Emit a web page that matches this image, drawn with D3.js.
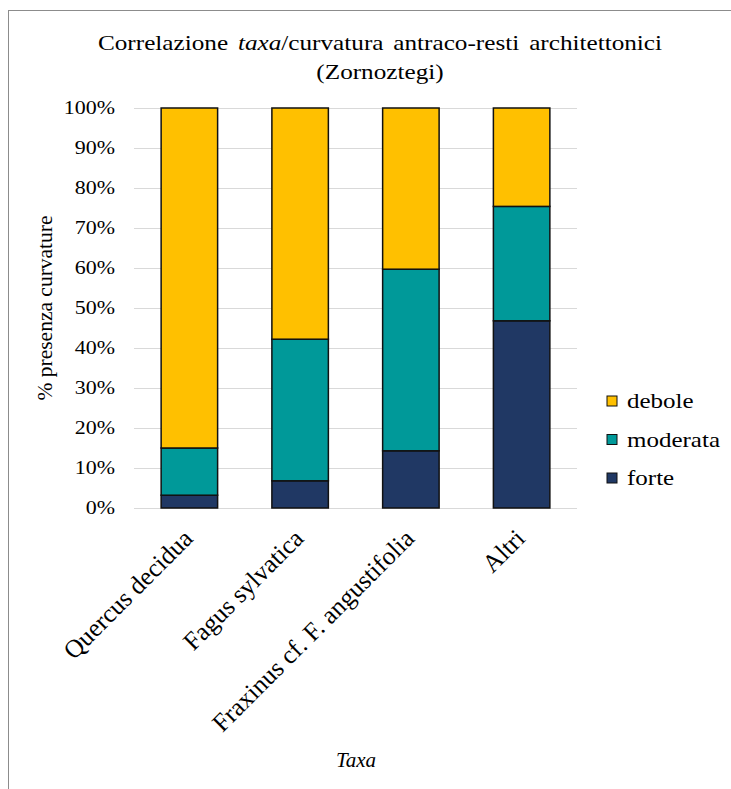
<!DOCTYPE html>
<html>
<head>
<meta charset="utf-8">
<script src="https://cdn.jsdelivr.net/npm/d3@7"></script>
<style>
  body { margin: 0; background: #fff; }
  svg text { font-family: 'Liberation Serif', 'DejaVu Serif', 'Times New Roman', serif; fill: #000; }
</style>
</head>
<body>
<svg id="chart" width="731" height="789"></svg>
<script>
// Categories (taxa) and stacked series shares (%)
const categories = ["Quercus decidua", "Fagus sylvatica", "Fraxinus cf. F. angustifolia", "Altri"];
const forte    = [3.2, 6.8, 14.3, 46.8];
const moderata = [11.8, 35.4, 45.4, 28.6];
const debole   = [85.0, 57.8, 40.3, 24.6];
const seriesNames = ["forte", "moderata", "debole"];
const legendItems = ["debole", "moderata", "forte"];
const yTicks = [0, 10, 20, 30, 40, 50, 60, 70, 80, 90, 100];

const colors = { forte: "#203864", moderata: "#009999", debole: "#FFC000" };
const FONT = "'Liberation Serif', 'DejaVu Serif', serif";
const WIDE = 1.22; // horizontal widening of the serif lettering

const svg = d3.select("#chart").attr("font-family", FONT);
const W = 731, H = 789;

// outer frame
svg.append("rect").attr("x", 8.5).attr("y", 10.5).attr("width", W).attr("height", H)
  .attr("fill", "none").attr("stroke", "#8c8c8c").attr("stroke-width", 1);

const plot = { left: 134, right: 577, top: 108, bottom: 508 };

const rows = categories.map((c, i) => ({ cat: c, forte: forte[i], moderata: moderata[i], debole: debole[i] }));
const stack = d3.stack().keys(seriesNames)(rows);

const x = d3.scaleBand().domain(categories).range([plot.left, plot.right]).paddingInner(0.49).paddingOuter(0.245);
const y = d3.scaleLinear().domain([0, 100]).range([plot.bottom, plot.top]);

// gridlines
svg.append("g").selectAll("line").data(yTicks).join("line")
  .attr("x1", plot.left).attr("x2", plot.right)
  .attr("y1", d => y(d) + 0.5).attr("y2", d => y(d) + 0.5)
  .attr("stroke", "#d9d9d9").attr("stroke-width", 1);

// y axis labels
const yAxis = d3.axisLeft(y).tickValues(yTicks).tickFormat(d => d + "%").tickSize(0);
const yg = svg.append("g").attr("transform", `translate(${plot.left},0)`).call(yAxis)
  .attr("font-family", FONT).attr("font-size", 18);
yg.select(".domain").remove();
yg.selectAll("text").attr("fill", "#000").attr("x", 0)
  .attr("transform", `translate(-19,0) scale(${WIDE},1)`);

// stacked bars
svg.append("g").selectAll("g").data(stack).join("g")
  .attr("fill", d => colors[d.key])
  .selectAll("rect").data(d => d).join("rect")
  .attr("x", d => x(d.data.cat))
  .attr("width", x.bandwidth())
  .attr("y", d => y(d[1]))
  .attr("height", d => y(d[0]) - y(d[1]))
  .attr("stroke", "#111").attr("stroke-width", 1.5);

// category labels, rotated
svg.append("g").selectAll("text").data(categories).join("text")
  .attr("transform", d => `translate(${x(d) + x.bandwidth() / 2 + 5},${plot.bottom + 32}) rotate(-45)`)
  .attr("text-anchor", "end")
  .attr("font-size", 25.5)
  .text(d => d);

// axis titles
svg.append("text").attr("transform", `translate(52,${(plot.top + plot.bottom) / 2}) rotate(-90)`)
  .attr("text-anchor", "middle").attr("font-size", 21.5).text("% presenza curvature");
svg.append("text").attr("x", 356).attr("y", 767).attr("text-anchor", "middle")
  .attr("font-size", 21).attr("font-style", "italic").text("Taxa");

// title
const tg1 = svg.append("g").attr("transform", `translate(380,50) scale(1.2,1)`);
const t1 = tg1.append("text").attr("text-anchor", "middle")
  .attr("font-size", 21).attr("word-spacing", 3);
t1.append("tspan").text("Correlazione ");
t1.append("tspan").attr("font-style", "italic").text("taxa");
t1.append("tspan").text("/curvatura antraco-resti architettonici");
svg.append("g").attr("transform", `translate(380,79) scale(1.2,1)`)
  .append("text").attr("text-anchor", "middle")
  .attr("font-size", 21).text("(Zornoztegi)");

// legend
const lg = svg.append("g").selectAll("g").data(legendItems).join("g")
  .attr("transform", (d, i) => `translate(607,${401 + i * 38.5})`);
lg.append("rect").attr("x", 0).attr("y", -5).attr("width", 10).attr("height", 10)
  .attr("fill", d => colors[d]).attr("stroke", "#111").attr("stroke-width", 1);
lg.append("text").attr("transform", `translate(20,7) scale(${WIDE},1)`)
  .attr("font-size", 20.5).text(d => d);
</script>
</body>
</html>
